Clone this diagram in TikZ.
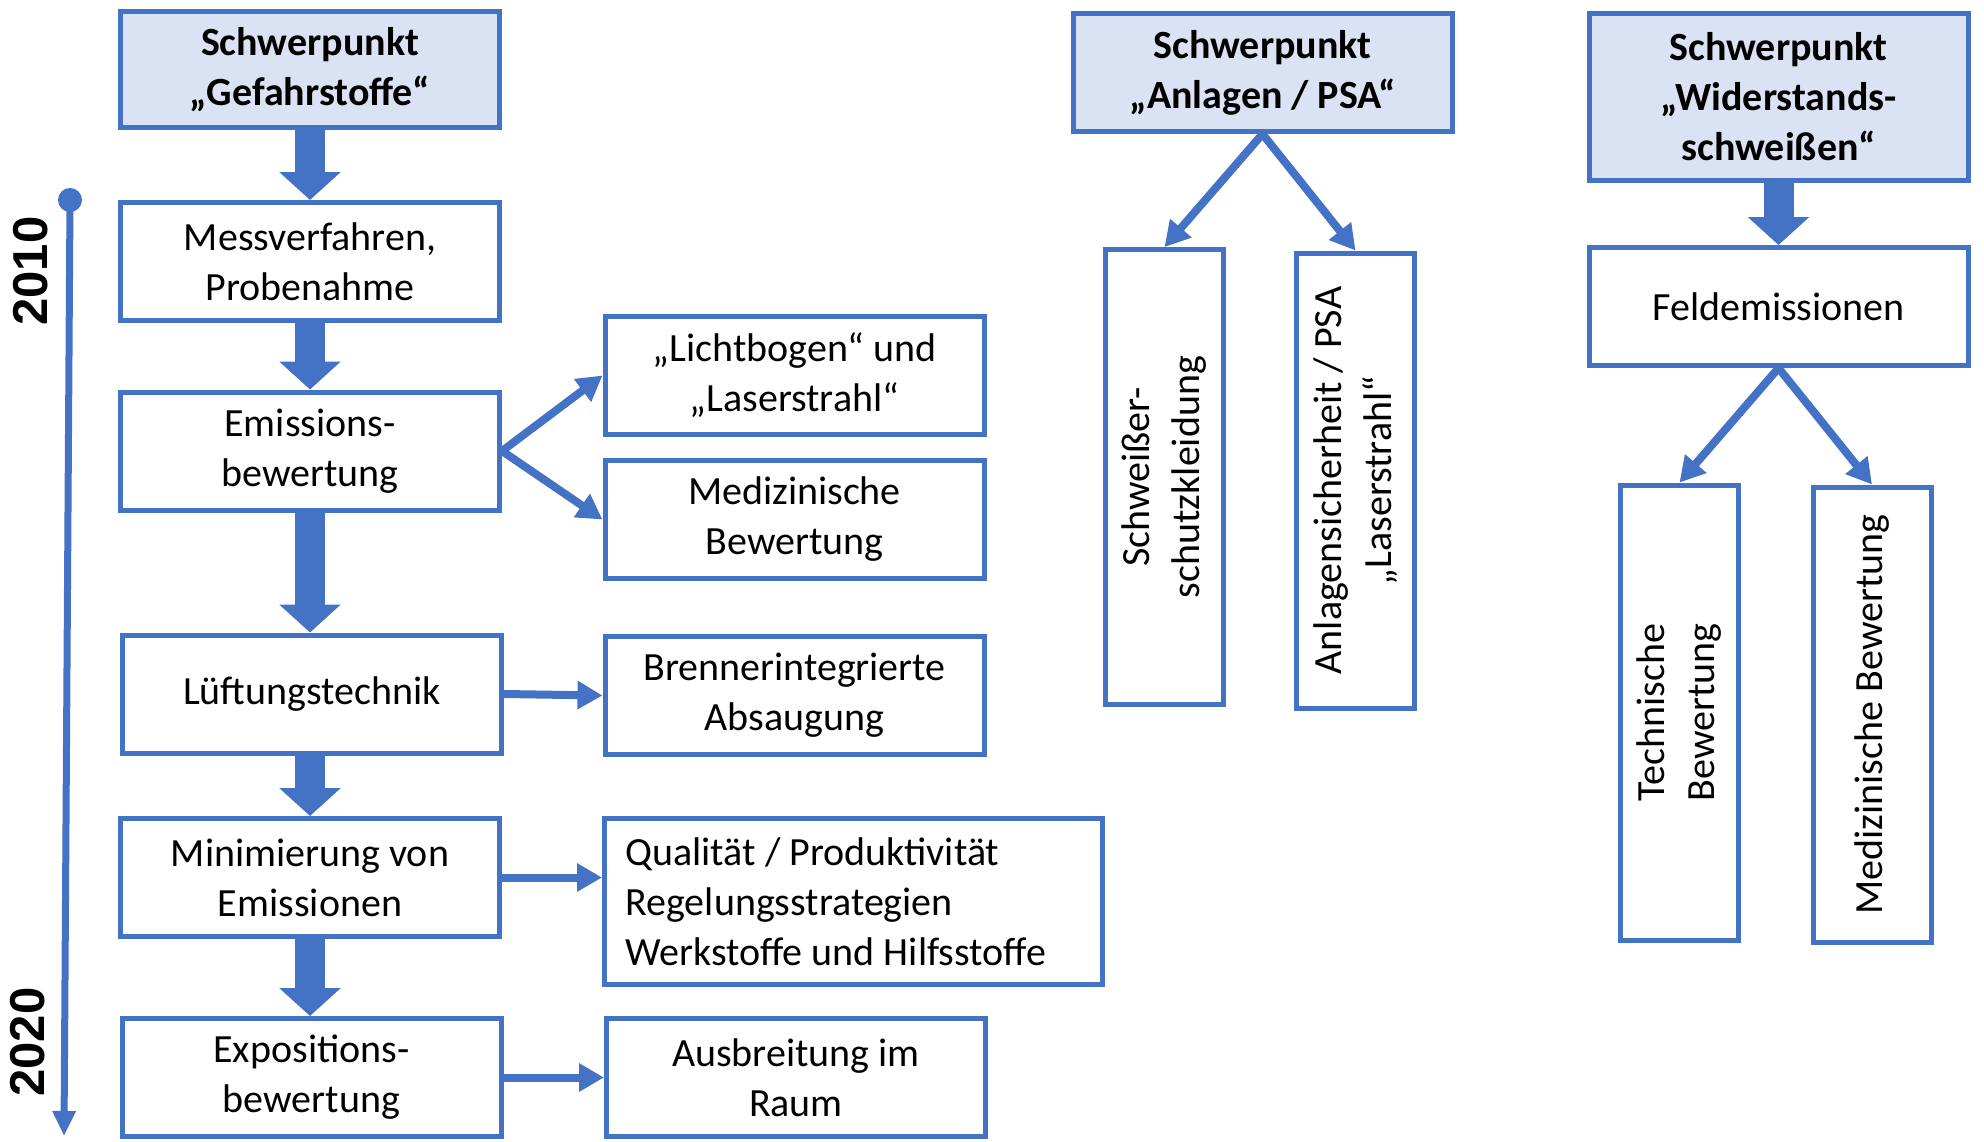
\documentclass[tikz,border=0pt]{standalone}
\usepackage{fontspec}
\setmainfont{Carlito}
\newfontfamily\yearfont{Liberation Sans}
\usetikzlibrary{arrows.meta, positioning, calc}
\definecolor{ablue}{HTML}{4472C4}
\definecolor{hfill}{HTML}{DAE2F4}

\begin{document}
\begin{tikzpicture}[
        font=\fontsize{20}{25}\selectfont,
        % Define styles for the different blocks
        box/.style={rectangle, draw=ablue, line width=2.5pt, fill=white, align=center, minimum width=189.5pt, minimum height=59pt, inner sep=2pt},
        head/.style={box, fill=hfill, font=\fontsize{20}{25}\selectfont\bfseries},
        vbox/.style={box, rotate=90, minimum width=227.5pt},
        fat/.style={draw=ablue, line width=15pt, -{Triangle[width=30pt, length=14pt]}},
        line/.style={draw=ablue, line width=4pt, -{Triangle[width=13.5pt, length=12.5pt]}},
        year/.style={rotate=90, font=\yearfont\fontsize{24.5}{28}\selectfont\bfseries}
    ]
    \useasboundingbox (0,0) rectangle (992pt,-570.5pt);

    % --- Timeline ---
    \coordinate (tltop) at (35pt,-100pt);
    \coordinate (tlbot) at (32pt,-568pt);
    \draw [ablue, line width=3.5pt, -{Triangle[width=11pt, length=12.5pt]}] (tltop) -- (tlbot);
    \fill [ablue] (tltop) circle (6pt);
    \node [year] (y2010) at (15.25pt,-135.5pt) {2010};
    \node [year] (y2020) at (14pt,-521pt) {2020};

    % --- Nodes ---
    % Gefahrstoffe
    \node [head, minimum height=58pt] (hgef) at (155pt,-34.75pt) {Schwerpunkt\\„Gefahrstoffe“};
    \node [box] (mess) at (155pt,-130.75pt) {Messverfahren,\\Probenahme};
    \node [box] (emis) at (155pt,-225.5pt) {Emissions-\\bewertung};
    \node [box] (lueft) at (156pt,-347pt) {Lüftungstechnik};
    \node [box] (mini) at (155pt,-438.75pt) {Minimierung von\\Emissionen};
    \node [box] (expo) at (155.75pt,-538.75pt) {Expositions-\\bewertung};

    \node [box] (licht) at (397.25pt,-187.75pt) {„Lichtbogen“ und\\„Laserstrahl“};
    \node [box] (medi) at (397.25pt,-259.75pt) {Medizinische\\Bewertung};
    \node [box] (brenn) at (397.25pt,-347.75pt) {Brennerintegrierte\\Absaugung};
    \node [box, align=flush left, text width=228pt, inner xsep=10.5pt, minimum height=83pt] (quali) at (426.75pt,-450.75pt) {Qualität / Produktivität\\Regelungsstrategien\\Werkstoffe und Hilfsstoffe};
    \node [box] (ausb) at (398pt,-538.75pt) {Ausbreitung im\\Raum};

    % Anlagen / PSA
    \node [head] (hanl) at (631.25pt,-36.25pt) {Schwerpunkt\\„Anlagen / PSA“};
    \node [vbox] (schutz) at (582.25pt,-238.5pt) {Schweißer-\\schutzkleidung};
    \node [vbox] (anlsi) at (677.75pt,-240.25pt) {Anlagensicherheit / PSA\\„Laserstrahl“};

    % Widerstandsschweissen
    \node [head, minimum height=83.5pt] (hwid) at (889.25pt,-48.5pt) {Schwerpunkt\\„Widerstands-\\schweißen“};
    \node [box] (feld) at (889.25pt,-153.25pt) {Feldemissionen};
    \node [vbox] (techn) at (839.75pt,-356.25pt) {Technische\\Bewertung};
    \node [vbox] (medv) at (936pt,-357.25pt) {Medizinische Bewertung};

    % --- Edges (Arrows) ---
    \path [fat] (hgef) -- (mess);
    \path [fat] (mess) -- (emis);
    \path [fat] (emis.south) -- (emis.south |- lueft.north);
    \path [fat] (mini.north |- lueft.south) -- (mini.north);
    \path [fat] (mini.south) -- (mini.south |- expo.north);

    \path [line] (emis.east) -- (licht.west);
    \path [line] (emis.east) -- (medi.west);
    \path [line] (lueft.east) -- (brenn.west);
    \path [line] (mini.east) -- (mini.east -| quali.west);
    \path [line] (expo.east) -- (ausb.west);

    % rotated boxes: east is the top side
    \path [line] (hanl.south) -- (schutz.east);
    \path [line] (hanl.south) -- (anlsi.east);

    \path [fat] (hwid) -- (feld);
    \path [line] (feld.south) -- (techn.east);
    \path [line] (feld.south) -- (medv.east);

\end{tikzpicture}
\end{document}
